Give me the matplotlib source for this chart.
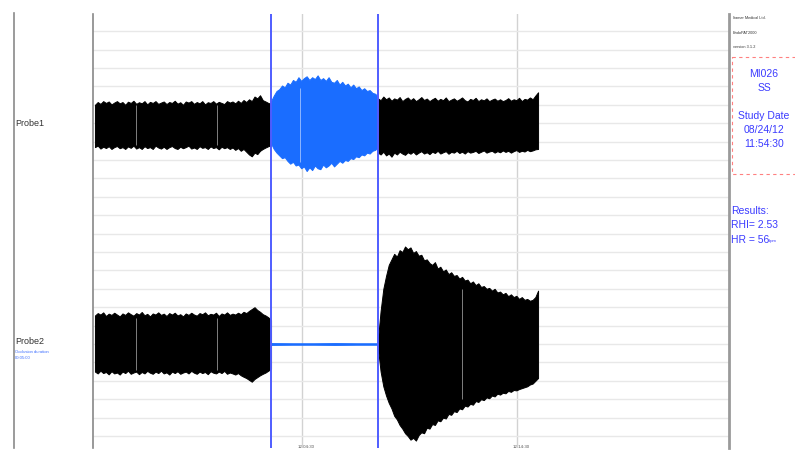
import numpy as np
import matplotlib
matplotlib.use("Agg")
import matplotlib.pyplot as plt
from matplotlib.patches import Rectangle

plt.rcParams['font.family'] = ['Liberation Sans', 'DejaVu Sans']

# ---------------- data (time in minutes, amplitude in grid divisions) ----------------
probe_names = ["Probe1", "Probe2"]
probe_centers = [16.9, 5.0]
occl_start, occl_end = 8.56, 13.53
sig_start, sig_end = 0.37, 20.98
time_ticks = [10.0, 20.0]
time_tick_labels = ["12:04:30", "12:14:30"]

# Probe1 baseline envelope
p1_base_up = [1.1,1.25,1.15,1.3,1.2,1.28,1.12,1.22,1.3,1.18,1.25,1.1,1.27,1.2,1.32,1.15,1.24,
              1.18,1.3,1.12,1.26,1.2,1.3,1.15,1.22,1.28,1.14,1.25,1.2,1.32,1.16,1.24,1.1,1.28,
              1.22,1.3,1.15,1.25,1.18,1.3,1.12,1.24,1.2,1.3,1.16,1.26,1.2,1.14,1.3,1.22,1.28,
              1.18,1.32,1.2,1.36,1.25,1.4,1.3,1.55,1.45,1.62,1.35,1.28,1.2,1.15]
p1_base_lo = [1.2,1.12,1.28,1.18,1.25,1.15,1.3,1.2,1.14,1.26,1.2,1.3,1.16,1.24,1.12,1.28,1.2,
              1.3,1.15,1.25,1.2,1.3,1.12,1.22,1.28,1.18,1.3,1.2,1.14,1.25,1.3,1.18,1.26,1.2,
              1.12,1.28,1.22,1.3,1.15,1.24,1.2,1.3,1.16,1.25,1.2,1.32,1.18,1.26,1.2,1.3,1.22,
              1.35,1.25,1.4,1.3,1.45,1.6,1.7,1.5,1.58,1.4,1.3,1.22,1.15,1.1]
# Probe1 occlusion (blue)
p1_occ_up = [1.3,1.6,1.85,1.95,2.15,2.05,2.3,2.2,2.45,2.35,2.6,2.4,2.55,2.65,2.45,2.6,2.5,2.7,
             2.45,2.55,2.4,2.6,2.35,2.3,2.45,2.2,2.35,2.15,2.25,2.05,2.2,2.0,2.1,1.9,2.0,1.85,
             1.9,1.75,1.7,1.55]
p1_occ_lo = [1.0,1.3,1.5,1.65,1.8,1.75,1.95,2.1,2.0,2.2,2.15,2.35,2.25,2.5,2.3,2.45,2.2,2.35,
             2.4,2.15,2.3,2.2,2.05,2.25,2.1,1.95,2.05,1.9,1.95,1.8,1.85,1.7,1.75,1.6,1.65,1.5,
             1.55,1.4,1.35,1.2]
# Probe1 post-occlusion
p1_post_up = [1.45,1.35,1.55,1.4,1.5,1.32,1.45,1.38,1.52,1.3,1.42,1.5,1.35,1.46,1.3,1.4,1.52,
              1.36,1.44,1.3,1.4,1.48,1.32,1.42,1.35,1.5,1.3,1.38,1.45,1.32,1.4,1.5,1.35,1.28,
              1.42,1.36,1.48,1.3,1.4,1.34,1.45,1.3,1.38,1.44,1.32,1.4,1.3,1.36,1.46,1.32,1.4,
              1.35,1.48,1.3,1.42,1.38,1.5,1.4,1.6,1.78]
p1_post_lo = [1.5,1.6,1.45,1.65,1.55,1.72,1.5,1.6,1.45,1.55,1.62,1.48,1.56,1.45,1.6,1.5,1.42,
              1.55,1.48,1.58,1.45,1.52,1.4,1.55,1.48,1.42,1.56,1.46,1.5,1.4,1.52,1.45,1.55,1.42,
              1.5,1.46,1.4,1.52,1.45,1.38,1.5,1.44,1.4,1.5,1.42,1.48,1.38,1.46,1.4,1.5,1.42,
              1.36,1.46,1.4,1.44,1.35,1.42,1.38,1.32,1.3]
# Probe2 baseline
p2_base_up = [1.55,1.68,1.6,1.72,1.52,1.65,1.58,1.7,1.6,1.5,1.66,1.58,1.72,1.62,1.54,1.68,1.6,
              1.74,1.56,1.64,1.5,1.66,1.6,1.72,1.58,1.65,1.52,1.68,1.6,1.7,1.55,1.62,1.5,1.66,
              1.58,1.7,1.6,1.54,1.68,1.62,1.72,1.56,1.64,1.6,1.7,1.52,1.66,1.6,1.72,1.58,1.65,
              1.6,1.7,1.62,1.75,1.68,1.8,1.9,2.0,1.85,1.75,1.62,1.55,1.45,1.3]
p2_base_lo = [1.5,1.6,1.45,1.58,1.52,1.65,1.48,1.6,1.55,1.66,1.5,1.58,1.45,1.62,1.55,1.5,1.64,
              1.52,1.6,1.46,1.56,1.62,1.5,1.58,1.45,1.6,1.54,1.66,1.5,1.58,1.48,1.62,1.55,1.5,
              1.6,1.46,1.56,1.62,1.5,1.58,1.52,1.64,1.48,1.56,1.6,1.5,1.58,1.46,1.62,1.55,1.6,
              1.66,1.58,1.7,1.78,1.85,1.95,2.05,1.9,1.8,1.7,1.62,1.55,1.45,1.35]
# Probe2 occlusion (flat)
p2_occ_amp = [0.05, 0.04, 0.04, 0.05, 0.04, 0.04]
# Probe2 post-occlusion (hyperemia)
p2_post_up = [0.2,1.8,3.0,3.7,4.3,4.6,4.9,4.75,5.1,5.0,5.3,5.15,5.25,4.95,5.05,4.8,4.85,4.55,
              4.6,4.4,4.3,4.45,4.1,4.2,3.95,4.05,3.8,3.9,3.7,3.75,3.55,3.65,3.45,3.5,3.3,3.4,
              3.2,3.3,3.1,3.15,3.0,3.05,2.9,3.0,2.8,2.85,2.7,2.78,2.6,2.7,2.55,2.62,2.45,2.55,
              2.4,2.45,2.35,2.4,2.55,2.9]
p2_post_lo = [0.2,1.5,2.3,2.8,3.2,3.5,3.9,4.1,4.4,4.6,4.85,5.0,5.2,5.1,5.25,4.95,4.8,4.85,4.55,
              4.6,4.35,4.4,4.15,4.2,4.0,4.05,3.8,3.85,3.65,3.7,3.5,3.55,3.35,3.4,3.25,3.3,3.1,
              3.15,3.0,3.05,2.9,2.95,2.8,2.85,2.7,2.75,2.65,2.68,2.55,2.6,2.5,2.52,2.45,2.4,
              2.35,2.3,2.2,2.15,2.0,1.85]
# artefact gaps (time, probe index, half-height)
gap_times = [2.28, 6.05, 2.28, 6.05, 9.9, 17.44]
gap_probe = [0, 0, 1, 1, 0, 1]
gap_amp = [1.1, 1.1, 1.4, 1.4, 2.0, 3.0]

# ---------------- figure ----------------
W, H = 795, 450
fig = plt.figure(figsize=(W / 100, H / 100), dpi=100)
ov = fig.add_axes([0, 0, 1, 1], zorder=0)
ov.set_xlim(0, W); ov.set_ylim(H, 0); ov.axis('off')

px_per_min = 21.5
t0_px = 87
ax_l, ax_r, ax_t, ax_b = 93, 729, 14, 448
ax = fig.add_axes([ax_l / W, (H - ax_b) / H, (ax_r - ax_l) / W, (ax_b - ax_t) / H], zorder=1)
ax.patch.set_alpha(0)
ax.set_xlim((ax_l - t0_px) / px_per_min, (ax_r - t0_px) / px_per_min)
ax.set_ylim((436 - ax_b) / 18.4, (436 - ax_t) / 18.4)

ax.set_yticks(np.arange(0, 23))
ax.set_xticks(time_ticks)
ax.grid(axis='y', color='#e8e8e8', lw=1.0, zorder=0)
ax.grid(axis='x', color='#d2d2d2', lw=1.0, zorder=0)
ax.tick_params(length=0, labelleft=False, labelbottom=False)
for s in ['top', 'bottom']:
    ax.spines[s].set_visible(False)
ax.spines['left'].set_color('#888888'); ax.spines['left'].set_linewidth(1.2)
ax.spines['right'].set_color('#9a9a9a'); ax.spines['right'].set_linewidth(2.0)


def band(tstart, tend, up, lo, center, color):
    t = np.linspace(tstart, tend, len(up))
    ax.fill_between(t, center + np.array(up), center - np.array(lo), color=color, lw=0.7,
                    edgecolor=color, zorder=3)


c1, c2 = probe_centers
band(sig_start, occl_start, p1_base_up, p1_base_lo, c1, 'black')
band(occl_start, occl_end, p1_occ_up, p1_occ_lo, c1, '#1a6dff')
band(occl_end, sig_end, p1_post_up, p1_post_lo, c1, 'black')
band(sig_start, occl_start, p2_base_up, p2_base_lo, c2, 'black')
band(occl_start, occl_end, p2_occ_amp, p2_occ_amp, c2, '#1a6dff')
band(occl_end, sig_end, p2_post_up, p2_post_lo, c2, 'black')

for t, p, a in zip(gap_times, gap_probe, gap_amp):
    c = probe_centers[p]
    ax.vlines(t, c - a, c + a, color='white', lw=0.7, alpha=0.5, zorder=4)

for t in (occl_start, occl_end):
    ax.axvline(t, color='#4f5dff', lw=1.4, zorder=5)

# ---------------- frame / texts ----------------
ov.plot([14, 14], [13, 448], color='#8a8a8a', lw=1.2)

for t, lab in zip(time_ticks, time_tick_labels):
    xpx = t0_px + t * px_per_min
    ov.text(xpx + 4, 446.5, lab, fontsize=3.2, color='#555555', ha='center', va='center')

ov.text(15, 123, probe_names[0], fontsize=6.5, color='#333333', va='center')
ov.text(15, 342, probe_names[1], fontsize=6.5, color='#333333', va='center')
ov.text(15, 352, "Occlusion duration", fontsize=3, color='#3a6cff', va='center')
ov.text(15, 358, "00:05:00", fontsize=3, color='#3a6cff', va='center')

for y, s in zip([18, 33, 47], ["Itamar Medical Ltd.", "EndoPAT2000", "version 3.1.2"]):
    ov.text(733, y, s, fontsize=2.8, color='#333333', va='center')

ov.add_patch(Rectangle((732, 57), 80, 117, fill=False, edgecolor='#ff8080', lw=0.8,
                       linestyle=(0, (3, 3))))
blue_txt = '#3b3bff'
for y, s in zip([74, 88, 116, 130, 144], ["MI026", "SS", "Study Date", "08/24/12", "11:54:30"]):
    ov.text(764, y, s, fontsize=7.5, color=blue_txt, ha='center', va='center')

ov.text(731, 211, "Results:", fontsize=7.5, color=blue_txt, va='center')
ov.text(731, 225, "RHI= 2.53", fontsize=7.5, color=blue_txt, va='center')
ov.text(731, 240, "HR = 56", fontsize=7.5, color=blue_txt, va='center')
ov.text(769, 241, "bpm", fontsize=3, color=blue_txt, va='center')

fig.savefig("out.png", dpi=100)
